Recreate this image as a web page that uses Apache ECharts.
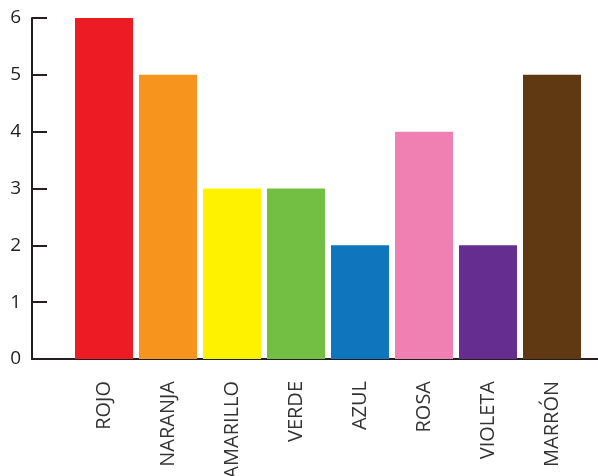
<!DOCTYPE html>
<html>
<head>
<meta charset="utf-8">
<style>
  html, body { margin: 0; padding: 0; background: #fff; }
  #chart { width: 598px; height: 476px; }
</style>
<script src="https://cdn.jsdelivr.net/npm/echarts@6/dist/echarts.min.js"></script>
</head>
<body>
<div id="chart"></div>
<script>
// Colour names and counts
const categories = ['ROJO', 'NARANJA', 'AMARILLO', 'VERDE', 'AZUL', 'ROSA', 'VIOLETA', 'MARRÓN'];
const values = [6, 5, 3, 3, 2, 4, 2, 5];
const barColors = ['#ed1c24', '#f7941d', '#fff200', '#72bf44', '#0f75bc', '#f080b2', '#662d91', '#603913'];
const yTicks = [0, 1, 2, 3, 4, 5, 6];

const ink = '#231f20';
const fontFamily = '"Open Sans", "Liberation Sans", sans-serif';

const chart = echarts.init(document.getElementById('chart'));

chart.setOption({
  animation: false,
  backgroundColor: '#fff',
  grid: [
    // frame grid: carries the y axis and the full-width baseline
    { left: 32, right: 0, top: 18, bottom: 117, containLabel: false, outerBoundsMode: 'none' },
    // bar grid
    { left: 72, width: 512, top: 18, bottom: 117, containLabel: false, outerBoundsMode: 'none' }
  ],
  xAxis: [
    {
      gridIndex: 0,
      type: 'category',
      data: categories,
      axisLine: { show: true, lineStyle: { color: ink, width: 2 } },
      axisTick: { show: false },
      axisLabel: { show: false },
      splitLine: { show: false }
    },
    {
      gridIndex: 1,
      type: 'category',
      data: categories,
      axisLine: { show: false },
      axisTick: { show: false },
      axisLabel: {
        rotate: 90,
        margin: 22,
        color: '#333',
        fontSize: 20,
        fontFamily: fontFamily
      },
      splitLine: { show: false }
    }
  ],
  yAxis: [
    {
      gridIndex: 0,
      type: 'value',
      min: yTicks[0],
      max: yTicks[yTicks.length - 1],
      interval: 1,
      axisLine: { show: true, lineStyle: { color: ink, width: 2 } },
      axisTick: { show: true, inside: true, length: 15, lineStyle: { color: ink, width: 2 } },
      axisLabel: {
        margin: 11,
        color: ink,
        fontSize: 19,
        fontFamily: fontFamily,
        formatter: v => yTicks.includes(v) ? String(v) : ''
      },
      splitLine: { show: false }
    },
    {
      gridIndex: 1,
      type: 'value',
      min: yTicks[0],
      max: yTicks[yTicks.length - 1],
      interval: 1,
      show: false
    }
  ],
  series: [
    {
      type: 'bar',
      xAxisIndex: 1,
      yAxisIndex: 1,
      barWidth: 58,
      data: values.map((v, i) => ({ value: v, itemStyle: { color: barColors[i] } }))
    }
  ]
});
</script>
</body>
</html>
